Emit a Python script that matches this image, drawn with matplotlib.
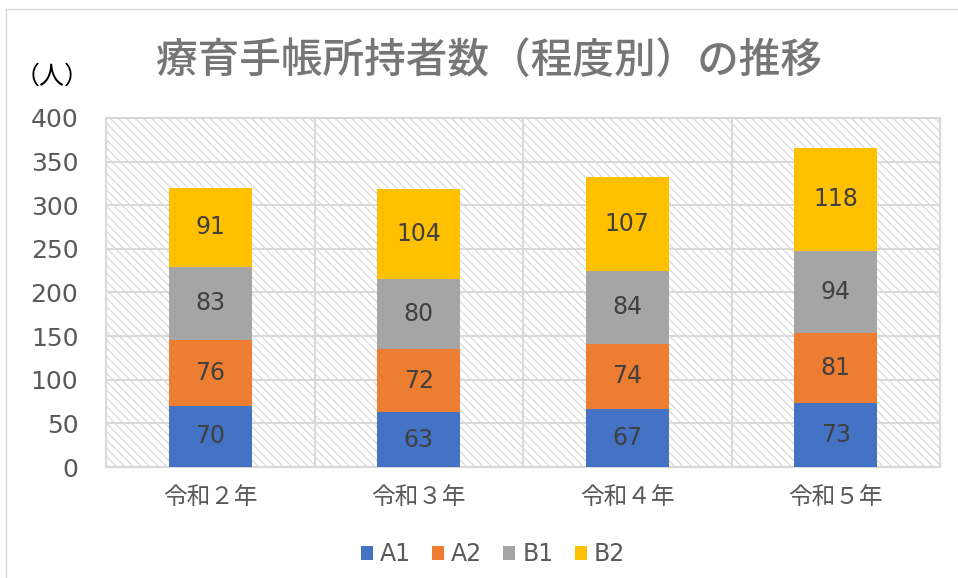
import matplotlib.pyplot as plt
import numpy as np
from matplotlib.patches import Rectangle
from matplotlib.lines import Line2D

plt.rcParams['font.family'] = ['Noto Sans CJK JP', 'DejaVu Sans']
plt.rcParams['hatch.color'] = '#DADADA'
plt.rcParams['hatch.linewidth'] = 0.9

# data
years = ['令和２年', '令和３年', '令和４年', '令和５年']
A1 = [70, 63, 67, 73]
A2 = [76, 72, 74, 81]
B1 = [83, 80, 84, 94]
B2 = [91, 104, 107, 118]
series = {'A1': A1, 'A2': A2, 'B1': B1, 'B2': B2}
colors = ['#4472C4', '#ED7D31', '#A5A5A5', '#FFC000']

fig = plt.figure(figsize=(9.58, 5.78), dpi=100)
ax = fig.add_axes([0.1107, 0.192, 0.8705, 0.604])

x = np.arange(len(years))
bottom = np.zeros(len(years))
for (name, vals), c in zip(series.items(), colors):
    bars = ax.bar(x, vals, 0.4, bottom=bottom, color=c, label=name, zorder=3)
    ax.bar_label(bars, labels=[str(v) for v in vals], label_type='center',
                 fontsize=17, color='#404040', family='DejaVu Sans')
    bottom += np.array(vals)

ax.set_xlim(-0.5, len(years) - 0.5)
ax.set_ylim(0, 400)
ax.set_yticks(range(0, 401, 50))
ax.set_xticks(x)
ax.set_xticklabels(years)

# hatched background
bg = Rectangle((0, 0), 1, 1, transform=ax.transAxes, facecolor='white',
               hatch='\\\\\\\\', edgecolor='#DADADA', linewidth=0, zorder=0)
ax.add_patch(bg)

ax.grid(axis='y', color='#D9D9D9', linewidth=1.5, zorder=1)
for b in x[:-1] + 0.5:
    ax.axvline(b, color='#D9D9D9', linewidth=1.5, zorder=1)
for s in ax.spines.values():
    s.set_color('#D9D9D9')
    s.set_linewidth(1.5)

ax.tick_params(length=0, labelcolor='#595959')
ax.tick_params(axis='x', pad=14, labelsize=17)
ax.tick_params(axis='y', pad=20, labelsize=18)
for t in ax.get_yticklabels():
    t.set_family('DejaVu Sans')

fig.text(0.510, 0.896, '療育手帳所持者数（程度別）の推移', ha='center', va='center',
         fontsize=30, color='#767676', fontweight='medium')
fig.text(0.054, 0.868, '（人）', ha='center', va='center', fontsize=18, color='black')

leg = ax.legend(loc='upper center', bbox_to_anchor=(0.464, -0.155), ncol=4, frameon=False,
                fontsize=17, handlelength=0.5, handleheight=0.5, handletextpad=0.3,
                columnspacing=0.9, labelcolor='#595959')
for t in leg.get_texts():
    t.set_family('DejaVu Sans')

# faint outer border
fig.add_artist(Line2D([0.006, 0.006], [0, 0.984], color='#D9D9D9', lw=1))
fig.add_artist(Line2D([0.006, 1], [0.984, 0.984], color='#D9D9D9', lw=1))

fig.savefig('out.png', dpi=100)
